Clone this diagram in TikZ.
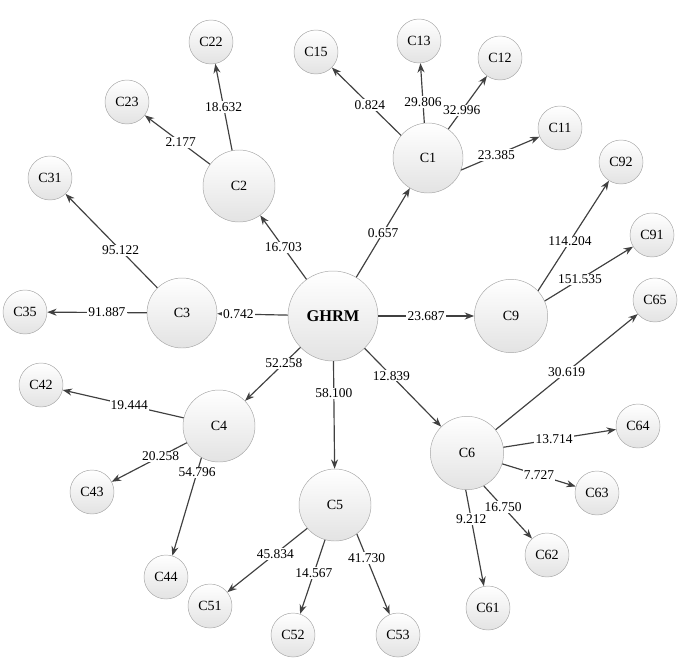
\documentclass[tikz,border=0pt]{standalone}
\usepackage{fontspec}
\setmainfont{Liberation Serif}
\usetikzlibrary{arrows.meta}
\begin{document}
\begin{tikzpicture}[x=0.03cm,y=-0.03cm,
  nd/.style={circle,draw=gray!70,inner sep=0pt,top color=white,bottom color=gray!22,shading angle=0,font=\fontsize{12}{14}\selectfont},
  leaf/.style={nd,minimum size=1.32cm},
  mid/.style={nd,minimum size=2.1cm},
  big/.style={nd,minimum size=2.7cm,font=\bfseries\fontsize{14}{16}\selectfont},
  lbl/.style={fill=white,inner sep=1pt,font=\fontsize{11.5}{13}\selectfont},
  ar/.style={-{Stealth[length=8pt,width=6pt]},draw=black!75,line width=1pt}]
\useasboundingbox (0,0) rectangle (685,668);
\node[big] (G) at (333,316) {GHRM};
\node[mid] (C1) at (428,158) {C1};
\node[mid,minimum size=2.16cm] (C2) at (239,186) {C2};
\node[mid] (C3) at (182,313) {C3};
\node[mid,minimum size=2.16cm] (C4) at (219,426) {C4};
\node[mid,minimum size=2.16cm] (C5) at (335,505) {C5};
\node[mid,minimum size=2.2cm] (C6) at (467,453) {C6};
\node[mid,minimum size=2.2cm] (C9) at (511,316) {C9};
\foreach \n/\x/\y in {C15/316/52,C13/419/41,C12/500/58,C11/560/128,C22/211/42,C23/127/102,C31/50/178,C35/25/312,C92/621/162,C91/652/235,C65/655/300,C64/638/426,C63/597/493,C62/547/555,C61/488/608,C42/41/385,C43/92/492,C44/166/577,C51/210/606,C52/293/635,C53/398/635}
  \node[leaf] (\n) at (\x,\y) {\n};
\foreach \a/\b/\t/\p in {G/C1/0.657/0.5,G/C2/16.703/0.5,G/C3/0.742/0.7,G/C4/52.258/0.3,G/C5/58.100/0.3,G/C6/12.839/0.35,G/C9/23.687/0.5,
  C1.140/C15/0.824/0.45,C1.96/C13/29.806/0.35,C1.55/C12/32.996/0.35,C1.-20/C11/23.385/0.45,
  C2/C22/18.632/0.5,C2/C23/2.177/0.45,C3/C31/95.122/0.4,C3/C35/91.887/0.4,
  C9.43/C92/114.204/0.45,C9.24/C91/151.535/0.4,
  C6/C65/30.619/0.5,C6/C64/13.714/0.45,C6/C63/7.727/0.5,C6.-63/C62/16.750/0.4,C6.-92/C61/9.212/0.3,
  C4/C42/19.444/0.45,C4/C43/20.258/0.35,C4.-119/C44/54.796/0.15,
  C5.-140/C51/45.834/0.4,C5.-106/C52/14.567/0.45,C5.-53/C53/41.730/0.3}
  \draw[ar] (\a) -- (\b) node[lbl,pos=\p] {\t};
\end{tikzpicture}
\end{document}
